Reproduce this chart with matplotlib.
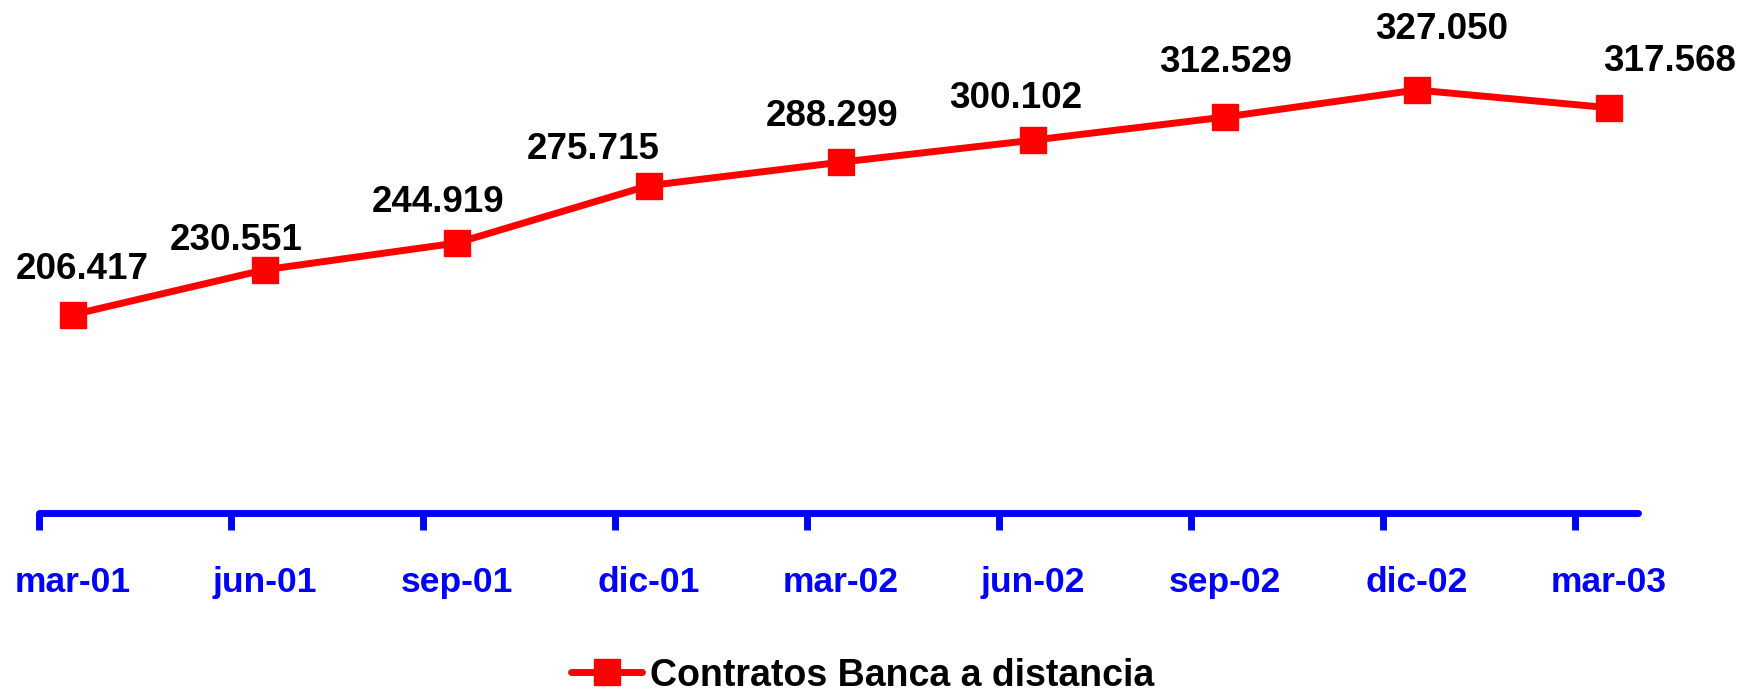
import numpy as np
import matplotlib.pyplot as plt

# Datos
fechas = ['mar-01', 'jun-01', 'sep-01', 'dic-01', 'mar-02', 'jun-02',
          'sep-02', 'dic-02', 'mar-03']
contratos = [206.417, 230.551, 244.919, 275.715, 288.299, 300.102,
             312.529, 327.050, 317.568]
etiquetas = ['206.417', '230.551', '244.919', '275.715', '288.299', '300.102',
             '312.529', '327.050', '317.568']

# desplazamiento de cada etiqueta respecto a su punto (pixeles)
desp_x = [10, -28, -19, -55, -9, -17, 1, 25, 61]
desp_y = [45, 29, 41, 36, 46, 42, 55, 61, 46]

plt.rcParams['font.family'] = ['Liberation Sans', 'DejaVu Sans']
plt.rcParams['font.weight'] = 'bold'

fig = plt.figure(figsize=(17.53, 6.9), dpi=100)
ax = fig.add_axes([0, 0.2565, 1, 0.675])

x = np.arange(len(fechas))
xp = x + 0.175
ax.plot(xp, contratos, color='#ff0000', lw=5, marker='s', ms=19,
        label='Contratos Banca a distancia', solid_capstyle='round')

for xi, yi, t, dx, dy in zip(xp, contratos, etiquetas, desp_x, desp_y):
    ax.annotate(t, (xi, yi), xytext=(dx, dy), textcoords='offset pixels',
                ha='center', va='center', fontsize=26.5, fontweight='bold')

ax.set_xlim(-0.203, 8.927)
ax.set_ylim(100, 350)

for s in ['top', 'right', 'left']:
    ax.spines[s].set_visible(False)
ax.spines['bottom'].set_color('#0000ff')
ax.spines['bottom'].set_linewidth(5)
ax.spines['bottom'].set_capstyle('round')
ax.spines['bottom'].set_bounds(0, 8.33)
ax.set_yticks([])

ax.set_xticks(x)
ax.set_xticklabels([])
ax.tick_params(axis='x', which='major', length=12, width=5, color='#0000ff')
ax.set_xticks(xp, minor=True)
ax.set_xticklabels(fechas, minor=True, fontsize=25.5, fontweight='bold', color='#0000ff')
ax.tick_params(axis='x', which='minor', length=0, pad=38)

fig.legend(loc='center', bbox_to_anchor=(0.492, 0.021), frameon=False,
           handlelength=1.9, handletextpad=0.2,
           prop={'weight': 'bold', 'size': 27})

fig.savefig('out.png', dpi=100)
